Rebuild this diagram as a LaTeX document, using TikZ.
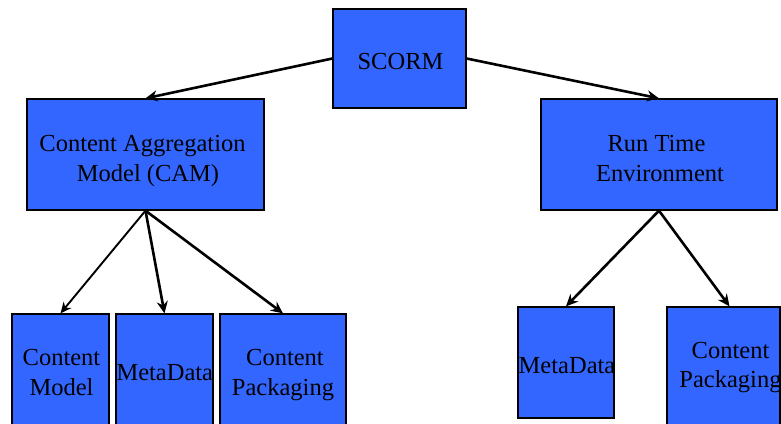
\documentclass[tikz,border=0pt]{standalone}
\usepackage{fontspec}
\setmainfont{Liberation Serif}
\usetikzlibrary{arrows.meta}
\definecolor{boxblue}{HTML}{3366FF}
\begin{document}
\begin{tikzpicture}[x=1pt,y=-1pt,
  box/.style={draw=black, line width=1.3pt, fill=boxblue, inner sep=0pt},
  txt/.style={anchor=base, inner sep=0pt, font=\fontsize{24.5}{30}\selectfont},
  conn/.style={line width=2.6pt, -{Stealth[length=12pt,width=11pt]}},
  thinconn/.style={line width=1.9pt, -{Stealth[length=11pt,width=10pt]}}]
\useasboundingbox (0,0) rectangle (781,423);
\clip (0,0) rectangle (781,423);
% boxes
\node[box, minimum width=133pt, minimum height=99pt] (scorm) at (399.5,58.5) {};
\node[box, minimum width=237pt, minimum height=111pt] (cam) at (145.5,154.5) {};
\node[box, minimum width=236pt, minimum height=111pt] (rte) at (659,154.5) {};
\node[box, minimum width=97pt, minimum height=116pt] (cm) at (60.5,372) {};
\node[box, minimum width=97pt, minimum height=116pt] (md1) at (164.5,372) {};
\node[box, minimum width=126pt, minimum height=116pt] (cp1) at (283,372) {};
\node[box, minimum width=96pt, minimum height=111pt] (md2) at (566,362.5) {};
\node[box, minimum width=113pt, minimum height=122pt] (cp2) at (723.5,368) {};
% texts
\node[txt] (scormt) at (400.5,69) {SCORM};
\node[txt] (camt1) at (142.5,151) {Content Aggregation};
\node[txt] (camt2) at (148,181) {Model (CAM)};
\node[txt] (rtet1) at (656.5,151) {Run Time};
\node[txt] (rtet2) at (660,181) {Environment};
\node[txt] (cmt1) at (61.5,365) {Content};
\node[txt] (cmt2) at (61.5,395) {Model};
\node[txt] (md1t) at (164.8,380) {MetaData};
\node[txt] (cp1t1) at (285,365) {Content};
\node[txt] (cp1t2) at (283,395) {Packaging};
\node[txt] (md2t) at (567,373) {MetaData};
\node[txt] (cp2t1) at (730.5,358) {Content};
\node[txt] (cp2t2) at (730.5,387) {Packaging};
% connectors
\draw[conn] (scorm.west) -- (cam.north);
\draw[conn] (scorm.east) -- (rte.north);
\draw[thinconn] (cam.south) -- (cm.north);
\draw[conn] (cam.south) -- (md1.north);
\draw[conn] (cam.south) -- (cp1.north);
\draw[conn] (rte.south) -- (md2.north);
\draw[conn] (rte.south) -- ([xshift=6pt]cp2.north);
\end{tikzpicture}
\end{document}
